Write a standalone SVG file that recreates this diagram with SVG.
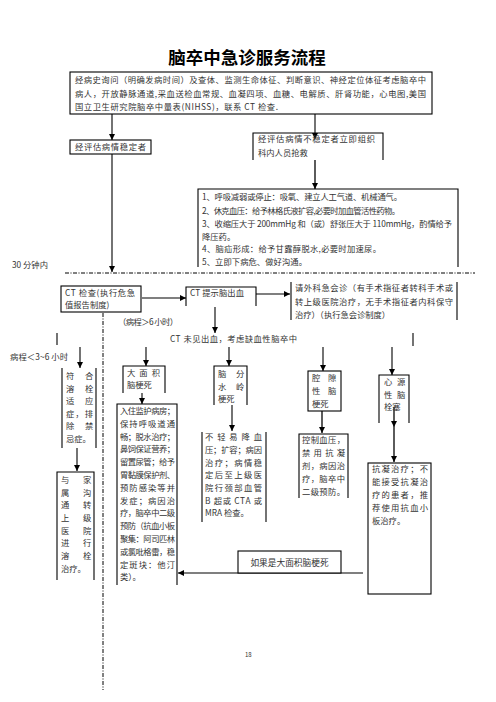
<svg xmlns="http://www.w3.org/2000/svg" width="496" height="702" viewBox="0 0 496 702">
<style>
text{font-family:"Noto Sans CJK SC","Noto Sans",sans-serif;font-size:8.3px;fill:#333}
.title{font-size:17.5px;font-weight:bold;fill:#000}
.bx{fill:#fff;stroke:#000;stroke-width:1.1}
.ln{fill:none;stroke:#000;stroke-width:1.1}
.dash{fill:none;stroke:#000;stroke-width:1;stroke-dasharray:4 1.5 1 1.5}
.cn{fill:none;stroke:#000;stroke-width:1.1}
.cn2{fill:none;stroke:#333;stroke-width:1.6}
</style>
<defs>
<marker id="ah" markerUnits="userSpaceOnUse" markerWidth="6" markerHeight="6" refX="6" refY="3" orient="auto">
<path d="M0,0 L6,3 L0,6 z" fill="#000"/>
</marker>
</defs>
<rect width="496" height="702" fill="#fff"/>
<text class="title" x="247" y="64" text-anchor="middle">脑卒中急诊服务流程</text>

<g id="connectors">
<line class="cn" x1="112" y1="114" x2="112" y2="140" marker-end="url(#ah)"/>
<line class="cn" x1="315" y1="114" x2="315" y2="139" marker-end="url(#ah)"/>
<line class="cn2" x1="315" y1="160" x2="315" y2="189" marker-end="url(#ah)"/>
<line class="cn" x1="112" y1="154" x2="112" y2="272" marker-end="url(#ah)"/>
<line class="dash" x1="65" y1="273" x2="475" y2="273"/>
<line class="cn" x1="142" y1="298" x2="186" y2="298" marker-end="url(#ah)"/>
<line class="cn" x1="256" y1="294" x2="290" y2="294" marker-end="url(#ah)"/>
<line class="cn" x1="215" y1="307" x2="215" y2="333" marker-end="url(#ah)"/>
<line class="dash" x1="103" y1="313" x2="103" y2="690"/>
<line class="ln" x1="57" y1="333" x2="57" y2="345"/>
<line class="ln" x1="413" y1="333" x2="413" y2="346"/>
<line class="cn" x1="80" y1="347" x2="80" y2="368" marker-end="url(#ah)"/>
<line class="cn" x1="146" y1="347" x2="146" y2="366" marker-end="url(#ah)"/>
<line class="cn" x1="229" y1="347" x2="229" y2="366" marker-end="url(#ah)"/>
<line class="cn" x1="323" y1="347" x2="323" y2="371" marker-end="url(#ah)"/>
<line class="cn" x1="392" y1="347" x2="392" y2="375" marker-end="url(#ah)"/>
<line class="cn" x1="77" y1="448" x2="77" y2="471" marker-end="url(#ah)"/>
<line class="cn" x1="142" y1="393" x2="142" y2="404" marker-end="url(#ah)"/>
<line class="cn" x1="232" y1="405" x2="232" y2="431" marker-end="url(#ah)"/>
<line class="cn2" x1="322" y1="411" x2="322" y2="433" marker-end="url(#ah)"/>
<line class="cn2" x1="394" y1="407" x2="394" y2="427" marker-end="url(#ah)"/>
<line class="cn2" x1="394" y1="427" x2="394" y2="462" marker-end="url(#ah)"/>
<line class="cn" x1="363" y1="573" x2="178" y2="573" marker-end="url(#ah)"/>
</g>

<g id="n-history">
<rect class="bx" x="70" y="72" width="362" height="42"/>
<text x="75" y="83" textLength="351" lengthAdjust="spacing">经病史询问（明确发病时间）及查体、监测生命体征、判断意识、神经定位体征考虑脑卒中</text>
<text x="75" y="97" textLength="351" lengthAdjust="spacing">病人，开放静脉通道,采血送检血常规、血凝四项、血糖、电解质、肝肾功能，心电图,美国</text>
<text x="75" y="110" textLength="203" lengthAdjust="spacing">国立卫生研究院脑卒中量表(NIHSS)，联系 CT 检查.</text>
</g>

<g id="n-stable">
<rect class="bx" x="70" y="140" width="81" height="14"/>
<text x="75" y="150" textLength="71" lengthAdjust="spacing">经评估病情稳定者</text>
</g>

<g id="n-unstable">
<path class="ln" d="M253,160 V133 H383 V160"/>
<text x="258" y="142" textLength="117" lengthAdjust="spacing">经评估病情不稳定者立即组织</text>
<text x="258" y="156">科内人员抢救</text>
</g>

<g id="n-rescue">
<path class="ln" d="M198,267 V189 H458 V267"/>
<text x="202" y="200" textLength="200" lengthAdjust="spacing">1、呼吸减弱或停止：吸氧、建立人工气道、机械通气。</text>
<text x="202" y="213.5" textLength="198" lengthAdjust="spacing">2、休克血压：给予林格氏液扩容,必要时加血管活性药物。</text>
<text x="202" y="227" textLength="250" lengthAdjust="spacing">3、收缩压大于 200mmHg 和（或）舒张压大于 110mmHg，酌情给予</text>
<text x="202" y="240">降压药。</text>
<text x="202" y="252" textLength="179" lengthAdjust="spacing">4、脑疝形成：给予甘露醇脱水,必要时加速尿。</text>
<text x="202" y="265" textLength="105" lengthAdjust="spacing">5、立即下病危、做好沟通。</text>
</g>

<text x="12" y="268">30 分钟内</text>

<g id="n-ct">
<rect class="bx" x="61" y="286" width="80" height="26"/>
<text x="65" y="296" textLength="70" lengthAdjust="spacing">CT 检查(执行危急</text>
<text x="65" y="308">值报告制度)</text>
</g>

<g id="n-hemorrhage">
<path class="ln" d="M186,306 V287 H256 V306"/>
<text x="190" y="296" textLength="54" lengthAdjust="spacing">CT 提示脑出血</text>
</g>

<g id="n-surgery">
<line class="ln" x1="291" y1="282" x2="291" y2="320"/>
<line class="ln" x1="457" y1="282" x2="457" y2="320"/>
<text x="295" y="291" textLength="158" lengthAdjust="spacing">请外科急会诊（有手术指征者转科手术或</text>
<text x="295" y="305" textLength="158" lengthAdjust="spacing">转上级医院治疗，无手术指征者内科保守</text>
<text x="295" y="318" textLength="95" lengthAdjust="spacing">治疗）（执行急会诊制度）</text>
</g>

<text x="118" y="325" textLength="60" lengthAdjust="spacing">（病程＞6 小时）</text>
<g id="n-ischemic">
<text x="170" y="342" textLength="127" lengthAdjust="spacing">CT 未见出血，考虑缺血性脑卒中</text>
</g>
<text x="10" y="360" textLength="58" lengthAdjust="spacing">病程＜3~6 小时</text>

<g id="n-thrombolysis">
<line class="ln" x1="62" y1="368" x2="62" y2="448"/>
<line class="ln" x1="96" y1="368" x2="96" y2="448"/>
<text x="66 85" y="379">符合</text>
<text x="66 85" y="391.5">溶栓</text>
<text x="66 85" y="404">适应</text>
<text x="66" y="416.5" textLength="27" lengthAdjust="spacing">症，排</text>
<text x="66 85" y="429">除禁</text>
<text x="66" y="441.5">忌症。</text>
</g>

<g id="n-transfer">
<path class="ln" d="M57,580 V472 H94 V580"/>
<text x="61 83" y="483">与家</text>
<text x="61 83" y="495.7">属沟</text>
<text x="61 83" y="508.4">通转</text>
<text x="61 83" y="521">上级</text>
<text x="61 83" y="533.7">医院</text>
<text x="61 83" y="546.4">进行</text>
<text x="61 83" y="559">溶栓</text>
<text x="61" y="571.8">治疗。</text>
</g>

<g id="n-large">
<path class="ln" d="M123,393 V366 H165 V393"/>
<text x="127" y="376" textLength="33" lengthAdjust="spacing">大面积</text>
<text x="127" y="388">脑梗死</text>
</g>

<g id="n-icu">
<path class="ln" d="M117,585 V404 H177 V585"/>
<text x="120" y="414" textLength="55" lengthAdjust="spacing">入住监护病房；</text>
<text x="120" y="426.8" textLength="55" lengthAdjust="spacing">保持呼吸道通</text>
<text x="120" y="439.6" textLength="55" lengthAdjust="spacing">畅；脱水治疗；</text>
<text x="120" y="452.4" textLength="55" lengthAdjust="spacing">鼻饲保证营养；</text>
<text x="120" y="465.2" textLength="55" lengthAdjust="spacing">留置尿管；给予</text>
<text x="120" y="478" textLength="55" lengthAdjust="spacing">胃黏膜保护剂、</text>
<text x="120" y="490.8" textLength="55" lengthAdjust="spacing">预防感染等并</text>
<text x="120" y="503.6" textLength="55" lengthAdjust="spacing">发症；病因治</text>
<text x="120" y="516.4" textLength="55" lengthAdjust="spacing">疗，脑卒中二级</text>
<text x="120" y="529.2" textLength="55" lengthAdjust="spacing">预防（抗血小板</text>
<text x="120" y="542" textLength="55" lengthAdjust="spacing">聚集：阿司匹林</text>
<text x="120" y="554.8" textLength="55" lengthAdjust="spacing">或氯吡格雷，稳</text>
<text x="120" y="567.6" textLength="55" lengthAdjust="spacing">定斑块：他汀</text>
<text x="120" y="580.4">类）。</text>
</g>

<g id="n-watershed">
<path class="ln" d="M214,405 V366 H247 V405"/>
<text x="218 236" y="377">脑分</text>
<text x="218 236" y="390">水岭</text>
<text x="218" y="402">梗死</text>
</g>

<g id="n-bp">
<line class="ln" x1="202" y1="432" x2="202" y2="522"/>
<line class="ln" x1="266" y1="432" x2="266" y2="522"/>
<text x="205" y="440" textLength="57" lengthAdjust="spacing">不轻易降血</text>
<text x="205" y="453" textLength="57" lengthAdjust="spacing">压；扩容；病因</text>
<text x="205" y="465.5" textLength="57" lengthAdjust="spacing">治疗；病情稳</text>
<text x="205" y="478" textLength="57" lengthAdjust="spacing">定后至上级医</text>
<text x="205" y="490.5" textLength="57" lengthAdjust="spacing">院行颈部血管</text>
<text x="205" y="503.5" textLength="57" lengthAdjust="spacing">B 超或 CTA 或</text>
<text x="205" y="516">MRA 检查。</text>
</g>

<g id="n-lacunar">
<rect class="bx" x="308" y="371" width="33" height="40"/>
<text x="312 328" y="381">腔隙</text>
<text x="312 328" y="394">性脑</text>
<text x="312" y="407">梗死</text>
</g>

<g id="n-control">
<path class="ln" d="M299,498 V434 H348 V498"/>
<text x="302" y="443" textLength="43" lengthAdjust="spacing">控制血压，</text>
<text x="302" y="456" textLength="43" lengthAdjust="spacing">禁用抗凝</text>
<text x="302" y="469" textLength="43" lengthAdjust="spacing">剂，病因治</text>
<text x="302" y="482" textLength="43" lengthAdjust="spacing">疗，脑卒中</text>
<text x="302" y="495" textLength="43" lengthAdjust="spacing">二级预防。</text>
</g>

<g id="n-cardio">
<path class="ln" d="M379,423 V375 H409 V423"/>
<text x="384 397" y="385">心源</text>
<text x="384 397" y="398">性脑</text>
<text x="384" y="410">栓塞</text>
</g>

<g id="n-anticoag">
<rect class="bx" x="368" y="463" width="63" height="131"/>
<text x="372" y="472" textLength="56" lengthAdjust="spacing">抗凝治疗；不</text>
<text x="372" y="485" textLength="56" lengthAdjust="spacing">能接受抗凝治</text>
<text x="372" y="498" textLength="56" lengthAdjust="spacing">疗的患者，推</text>
<text x="372" y="511" textLength="56" lengthAdjust="spacing">荐使用抗血小</text>
<text x="372" y="524">板治疗。</text>
</g>

<g id="n-iflarge">
<rect class="bx" x="238" y="551" width="103" height="22"/>
<text x="289.5" y="565.5" text-anchor="middle" style="font-size:8.7px">如果是大面积脑梗死</text>
</g>

<text x="245" y="657" style="font-size:6px">18</text>
</svg>
